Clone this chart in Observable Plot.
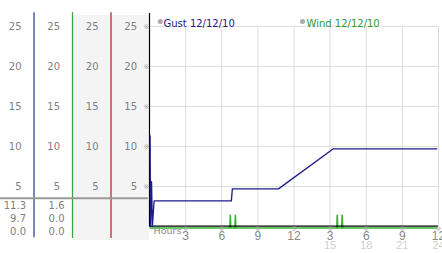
<!DOCTYPE html>
<html>
<head>
<meta charset="utf-8">
<script src="https://cdn.jsdelivr.net/npm/d3@7"></script>
<script src="https://cdn.jsdelivr.net/npm/@observablehq/plot@0.6"></script>
<style>
  html, body { margin: 0; padding: 0; background: #fff; }
  #wrap { position: relative; width: 442px; height: 253px; overflow: hidden; background: #fff; }
  #wrap svg { position: absolute; left: 0; top: 0; }
</style>
</head>
<body>
<div id="wrap"></div>
<script>
// ---- data ----
const gustHours = [0.05, 0.09, 0.17, 0.24, 0.38, 6.8, 6.88, 10.71, 15.27, 23.86];
const gustValues = [11.3, 0, 5.6, 0, 3.2, 3.2, 4.7, 4.7, 9.7, 9.7];
const windHours = [0.05, 6.67, 6.71, 6.75, 7.09, 7.13, 7.17, 15.55, 15.59, 15.63, 15.96, 16.0, 16.04, 23.86];
const windValues = [0, 0, 1.6, 0, 0, 1.6, 0, 0, 1.6, 0, 0, 1.6, 0, 0];
const yTicks = [5, 10, 15, 20, 25];
const xTicks = [3, 6, 9, 12, 15, 18, 21, 24];
const xLabels = ["3", "6", "9", "12", "3", "6", "9", "12"];
const xLabels2 = ["", "", "", "", "15", "18", "21", "24"];
const gustStats = ["11.3", "9.7", "0.0"];
const windStats = ["1.6", "0.0", "0.0"];
const legendNames = ["Gust 12/12/10", "Wind 12/12/10"];
const panelColumns = [0, 1, 2, 3];

const gust = gustHours.map((h, i) => ({h, v: gustValues[i]}));
const wind = windHours.map((h, i) => ({h, v: windValues[i]}));

const FONT = "DejaVu Sans";
const yDomain = [0, 26.6];
const yRange = [226, 13];
const gustColor = "#1c1c88";
const windColor = "#33b533";

// ---- left panel (value columns) ----
const left = Plot.plot({
  width: 149, height: 253,
  marginLeft: 0, marginRight: 0, marginTop: 15, marginBottom: 13,
  style: {background: "transparent", fontFamily: FONT, fontSize: "10px"},
  x: {domain: [0, 4], range: [-5, 149], axis: null},
  y: {domain: yDomain, range: yRange, axis: null},
  marks: [
    Plot.rect([2, 3], {x1: d => d, x2: d => d + 1, fill: "#f4f4f4"}),
    Plot.ruleX([1], {y1: -1.4, y2: 26.7, stroke: "#2a44a0", strokeWidth: 1.3}),
    Plot.ruleX([2], {y1: -1.5, y2: 26.7, stroke: "#3aa53a", strokeWidth: 1.3}),
    Plot.ruleX([3], {y1: -1.5, y2: 26.7, stroke: "#b03030", strokeWidth: 1.3}),
    Plot.ruleY([0], {x1: 0, x2: 3.97, dy: -28.3, stroke: "#9a9a9a", strokeWidth: 2}),
    Plot.text(d3.cross(panelColumns, yTicks), {
      x: d => d[0] + 1, y: d => d[1], text: d => String(d[1]),
      textAnchor: "end", dx: -12.5, fill: "#808080"
    }),
    ...[0, 1, 2].map(r => Plot.text([gustStats[r], windStats[r]], {
      x: (d, i) => i + 1, y: () => 0, text: d => d,
      textAnchor: "end", dx: -8, dy: -20.3 + 13 * r, fill: "#808080"
    }))
  ]
});

// ---- main chart ----
const main = Plot.plot({
  width: 442, height: 253,
  marginLeft: 149, marginRight: 4, marginTop: 13, marginBottom: 27,
  style: {background: "transparent", fontFamily: FONT, fontSize: "10px"},
  x: {domain: [0, 24], axis: null},
  y: {domain: yDomain, axis: null},
  marks: [
    Plot.ruleY(yTicks, {stroke: "#dcdcdc"}),
    Plot.ruleX(xTicks, {y1: 0, y2: d3.max(yTicks), stroke: "#dcdcdc"}),
    Plot.text(yTicks, {y: d => d, text: () => "※", frameAnchor: "left", dx: -3, textAnchor: "middle", fontSize: 7, fill: "#aaa"}),
    Plot.ruleX([0], {stroke: "#000", strokeWidth: 1.2}),
    Plot.line(wind, {x: "h", y: "v", stroke: windColor, strokeWidth: 1.6, dy: 1.5}),
    Plot.ruleY([0], {stroke: "#000", strokeWidth: 1.3, dy: -0.3}),
    Plot.line(gust, {x: "h", y: "v", stroke: gustColor, strokeWidth: 1.3}),
    Plot.text(xTicks, {x: d => d, text: () => "※", frameAnchor: "bottom", dy: 4.5, fontSize: 7, fill: "#aaa"}),
    Plot.text(xTicks, {x: d => d, text: (d, i) => xLabels[i], frameAnchor: "bottom", dy: 13, fontFamily: "Liberation Sans", fontSize: 12, fill: "#888"}),
    Plot.text(xTicks, {x: d => d, text: (d, i) => xLabels2[i], frameAnchor: "bottom", dy: 22.5, fontFamily: "Liberation Sans", fontSize: 11, fill: "#cfcfcf"}),
    Plot.text(["Hours"], {text: d => d, frameAnchor: "bottom-left", dx: 4, dy: 7, textAnchor: "start", fontSize: 9.5, fill: "#888"}),
    Plot.dot([legendNames[0]], {frameAnchor: "top-left", dx: 10.8, dy: 8, r: 2.5, fill: "#aaa"}),
    Plot.text([legendNames[0]], {text: d => d, frameAnchor: "top-left", dx: 14, dy: 6.5, textAnchor: "start", fill: gustColor, fontSize: 10}),
    Plot.dot([legendNames[1]], {frameAnchor: "top-left", dx: 153, dy: 8, r: 2.5, fill: "#aaa"}),
    Plot.text([legendNames[1]], {text: d => d, frameAnchor: "top-left", dx: 157, dy: 6.5, textAnchor: "start", fill: "#2c9a2c", fontSize: 10})
  ]
});

const wrap = document.getElementById("wrap");
wrap.appendChild(left);
wrap.appendChild(main);
</script>
</body>
</html>
